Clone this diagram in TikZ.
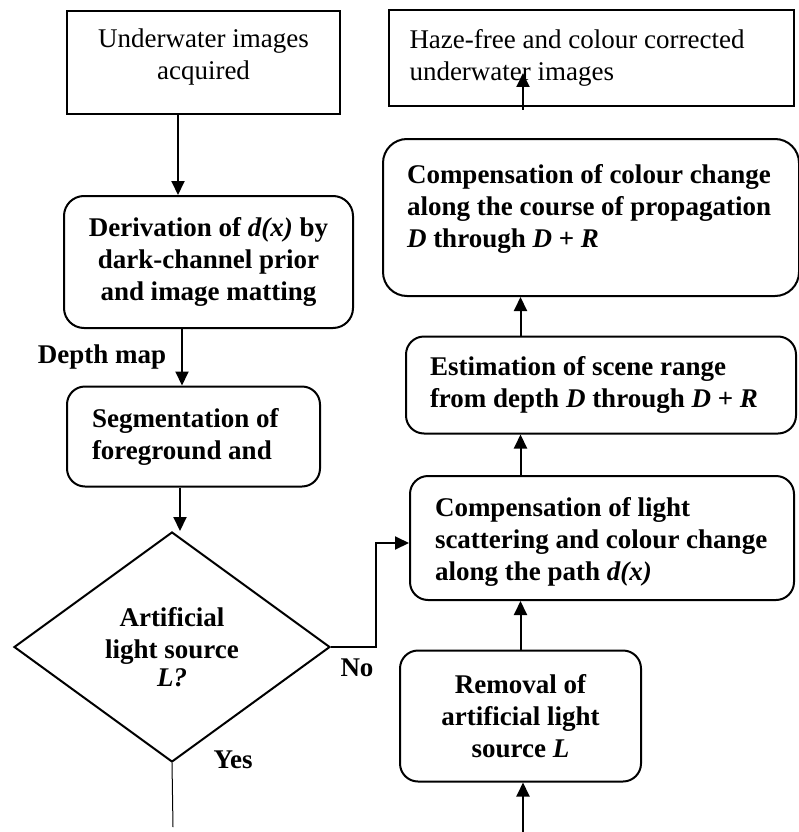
\documentclass[tikz,border=0pt]{standalone}
\usepackage{fontspec}
\setmainfont{Liberation Serif}
\usetikzlibrary{arrows.meta,shapes.geometric,positioning}

\begin{document}
\begin{tikzpicture}[
        x=1pt, y=-1pt,
        line width=2pt,
        font=\fontsize{27}{32}\selectfont,
        plain box/.style 2 args={draw, rectangle, inner sep=0pt,
                minimum width=#1, minimum height=#2, align=flush center},
        proc box/.style 2 args={draw, rounded corners=18pt, inner sep=0pt,
                minimum width=#1, minimum height=#2, align=flush center,
                font=\fontsize{27}{32}\selectfont\bfseries},
        left text/.style 2 args={inner xsep=#2, text width=#1-2*#2, align=flush left},
        lift text/.style={execute at end node={\endgraf\kern#1}},
        decision/.style={draw, diamond, inner sep=0pt, aspect=1.374,
                minimum width=316pt, minimum height=230pt, align=flush center,
                font=\fontsize{27}{32}\selectfont\bfseries},
        flow arrow/.style={-{Triangle[length=14pt,width=13pt]}},
        tag/.style={font=\fontsize{27}{32}\selectfont\bfseries},
    ]
    \useasboundingbox (0,0) rectangle (799,832);

    % left column
    \node[plain box={273pt}{103pt}, text width=240pt, lift text=10pt] (acquired) at (203.5,62.5)
        {Underwater images\\acquired};
    \node[proc box={289pt}{132pt}, rounded corners=20pt] (derive) at (208.5,262)
        {Derivation of \textit{d(x)} by\\dark-channel prior\\and image matting};
    \node[proc box={253pt}{100pt}, left text={253pt}{25pt}] (segment) at (193.5,436.5)
        {Segmentation of\\foreground and};
    \node[decision] (decide) at (172,647)
        {Artificial\\light source\\[-4pt]\textit{L?}};

    % right column
    \node[plain box={405pt}{96pt}, left text={405pt}{21pt}] (hazefree) at (591,58)
        {Haze-free and colour corrected\\underwater images};
    \node[proc box={416pt}{157pt}, rounded corners=24pt, left text={416pt}{24pt}, lift text=18pt]
        (colourcomp) at (591,217.5)
        {Compensation of colour change\\along the course of propagation\\\textit{D} through \textit{D} + \textit{R}};
    \node[proc box={390pt}{97pt}, left text={390pt}{24pt}] (range) at (601,385)
        {Estimation of scene range\\from depth \textit{D} through \textit{D} + \textit{R}};
    \node[proc box={384pt}{124pt}, left text={384pt}{25pt}, lift text=-8pt] (lightcomp) at (602,538)
        {Compensation of light\\scattering and colour change\\along the path \textit{d(x)}};
    \node[proc box={241pt}{131pt}] (removal) at (520.5,716)
        {Removal of\\artificial light\\source \textit{L}};

    % free ends
    \coordinate (outstart) at (523,110);
    \coordinate (outend) at (523,73);
    \coordinate (yesend) at (173,827);
    \coordinate (loopin) at (523,832);
    \coordinate (nobend) at (376,647);

    % connectors
    \draw[flow arrow] (acquired.south -| 178,0) -- (derive.north -| 178,0);
    \draw[flow arrow] (derive.south -| 182,0) -- (segment.north -| 182,0);
    \draw[flow arrow] (segment.south -| 180,0) -- (decide.north -| 180,0);
    \draw[flow arrow] (decide.east) -- (nobend) |- ([yshift=-5pt]lightcomp.west);
    \draw[line width=1pt] (decide.south) -- (yesend);
    \draw[flow arrow] (loopin) -- (loopin |- removal.south);
    \draw[flow arrow] (removal.north) -- (removal.north |- lightcomp.south);
    \draw[flow arrow] (removal.north |- lightcomp.north) -- (removal.north |- range.south);
    \draw[flow arrow] (removal.north |- range.north) -- (removal.north |- colourcomp.south);
    \draw[flow arrow] (outstart) -- (outend);

    % labels
    \node[tag] (depthtag) at (102,357) {Depth map};
    \node[tag] (notag) at (357,668) {No};
    \node[tag] (yestag) at (233,760) {Yes};
\end{tikzpicture}
\end{document}
